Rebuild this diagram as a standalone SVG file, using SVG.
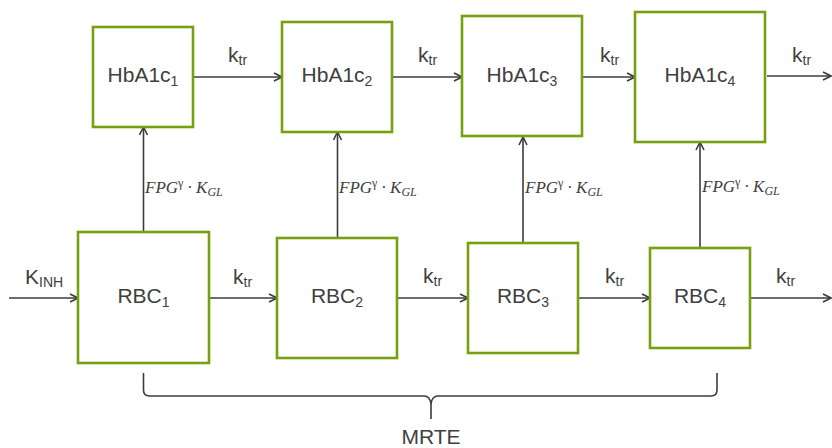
<svg xmlns="http://www.w3.org/2000/svg" width="832" height="448" viewBox="0 0 832 448">
<defs>
<marker id="arr" viewBox="0 0 10 10" refX="9" refY="5" markerWidth="10" markerHeight="10" markerUnits="userSpaceOnUse" orient="auto">
<path d="M1,1 L9,5 L1,9" fill="none" stroke="#3c3c3c" stroke-width="1.6"/>
</marker>
<style>
.box{fill:#fff;stroke:#77a010;stroke-width:2.6}
.lbl{font-family:"Liberation Sans",Arial,sans-serif;font-size:21px;fill:#404040;text-anchor:middle}
.k{font-family:"Liberation Sans",Arial,sans-serif;font-size:21px;fill:#404040}
.f{font-family:"Liberation Serif","Times New Roman",serif;font-style:italic;font-size:17px;fill:#404040}
.c{fill:none;stroke:#3c3c3c;stroke-width:1.6}
</style>
</defs>
<rect width="832" height="448" fill="#fff"/>
<g id="connectors">
<line class="c" x1="193" y1="77" x2="282" y2="77" marker-end="url(#arr)"/>
<line class="c" x1="392" y1="77" x2="462" y2="77" marker-end="url(#arr)"/>
<line class="c" x1="582" y1="77" x2="635" y2="77" marker-end="url(#arr)"/>
<line class="c" x1="767" y1="76" x2="831" y2="76" marker-end="url(#arr)"/>
<line class="c" x1="9" y1="298" x2="78" y2="298" marker-end="url(#arr)"/>
<line class="c" x1="209" y1="298" x2="277" y2="298" marker-end="url(#arr)"/>
<line class="c" x1="397" y1="298" x2="468" y2="298" marker-end="url(#arr)"/>
<line class="c" x1="578" y1="298" x2="650" y2="298" marker-end="url(#arr)"/>
<line class="c" x1="750" y1="298" x2="831" y2="298" marker-end="url(#arr)"/>
<line class="c" x1="143.5" y1="232" x2="143.5" y2="127" marker-end="url(#arr)"/>
<line class="c" x1="337.5" y1="238" x2="337.5" y2="132" marker-end="url(#arr)"/>
<line class="c" x1="523" y1="243" x2="523" y2="137" marker-end="url(#arr)"/>
<line class="c" x1="700" y1="248" x2="700" y2="142" marker-end="url(#arr)"/>
<text class="k" x="228" y="62">k<tspan font-size="14" dy="3">tr</tspan></text>
<text class="k" x="418" y="62">k<tspan font-size="14" dy="3">tr</tspan></text>
<text class="k" x="600" y="62">k<tspan font-size="14" dy="3">tr</tspan></text>
<text class="k" x="792" y="62">k<tspan font-size="14" dy="3">tr</tspan></text>
<text class="k" x="25" y="284">K<tspan font-size="14" dy="3">INH</tspan></text>
<text class="k" x="233" y="284">k<tspan font-size="14" dy="3">tr</tspan></text>
<text class="k" x="423" y="283">k<tspan font-size="14" dy="3">tr</tspan></text>
<text class="k" x="605" y="283">k<tspan font-size="14" dy="3">tr</tspan></text>
<text class="k" x="776" y="283">k<tspan font-size="14" dy="3">tr</tspan></text>
<text class="f" x="145" y="193">FPG<tspan font-size="12" font-style="normal" dy="-6">γ</tspan><tspan dy="6"> · K</tspan><tspan font-size="12" dy="3">GL</tspan></text>
<text class="f" x="339" y="193">FPG<tspan font-size="12" font-style="normal" dy="-6">γ</tspan><tspan dy="6"> · K</tspan><tspan font-size="12" dy="3">GL</tspan></text>
<text class="f" x="525" y="193">FPG<tspan font-size="12" font-style="normal" dy="-6">γ</tspan><tspan dy="6"> · K</tspan><tspan font-size="12" dy="3">GL</tspan></text>
<text class="f" x="702" y="192">FPG<tspan font-size="12" font-style="normal" dy="-6">γ</tspan><tspan dy="6"> · K</tspan><tspan font-size="12" dy="3">GL</tspan></text>
</g>
<g id="HbA1c1"><rect class="box" x="93" y="27" width="100" height="100"/><text class="lbl" x="143" y="82">HbA1c<tspan font-size="14" dy="4">1</tspan></text></g>
<g id="HbA1c2"><rect class="box" x="282" y="22" width="110" height="110"/><text class="lbl" x="337" y="82">HbA1c<tspan font-size="14" dy="4">2</tspan></text></g>
<g id="HbA1c3"><rect class="box" x="462" y="16" width="120" height="120"/><text class="lbl" x="522" y="82">HbA1c<tspan font-size="14" dy="4">3</tspan></text></g>
<g id="HbA1c4"><rect class="box" x="635" y="12" width="130" height="130"/><text class="lbl" x="700" y="82">HbA1c<tspan font-size="14" dy="4">4</tspan></text></g>
<g id="RBC1"><rect class="box" x="78" y="232" width="131" height="131"/><text class="lbl" x="143.5" y="303">RBC<tspan font-size="14" dy="4">1</tspan></text></g>
<g id="RBC2"><rect class="box" x="277" y="238" width="120" height="120"/><text class="lbl" x="337" y="303">RBC<tspan font-size="14" dy="4">2</tspan></text></g>
<g id="RBC3"><rect class="box" x="468" y="243" width="110" height="110"/><text class="lbl" x="523" y="303">RBC<tspan font-size="14" dy="4">3</tspan></text></g>
<g id="RBC4"><rect class="box" x="650" y="248" width="100" height="100"/><text class="lbl" x="700" y="303">RBC<tspan font-size="14" dy="4">4</tspan></text></g>
<g id="MRTE">
<path class="c" d="M143.5,373 V390 Q143.5,396 149.5,396 H424 Q430,396 431,404 V419 M431,404 Q432,396 438,396 H711 Q717,396 717,390 V373"/>
<text class="lbl" x="431" y="444">MRTE</text>
</g>
</svg>
